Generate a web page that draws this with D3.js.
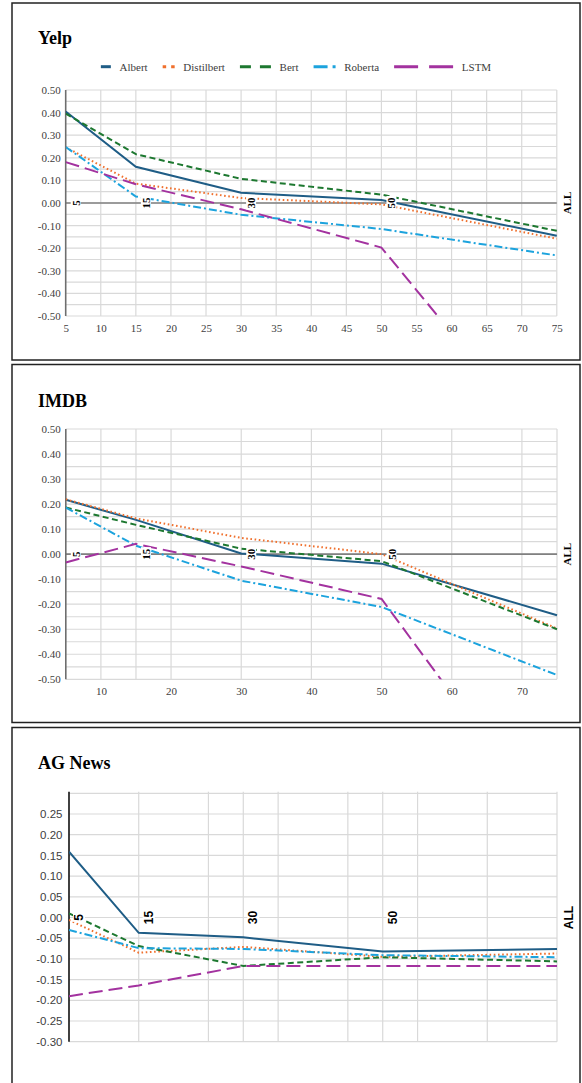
<!DOCTYPE html>
<html>
<head>
<meta charset="utf-8">
<script src="https://cdn.jsdelivr.net/npm/d3@7"></script>
<style>
  body { margin: 0; background: #fff; }
</style>
</head>
<body>
<script>
const seriesNames = ['Albert', 'Distilbert', 'Bert', 'Roberta', 'LSTM'];
// every series is read at 5, 15, 30, 50 and ALL (drawn at 75)
const xPoints = [5, 15, 30, 50, 75];

// rows follow seriesNames order
const yelpValues = [
  [0.405, 0.160, 0.045, 0.013, -0.145],
  [0.246, 0.086, 0.022, -0.006, -0.158],
  [0.395, 0.216, 0.107, 0.037, -0.123],
  [0.248, 0.029, -0.052, -0.115, -0.232],
  [0.181, 0.083, -0.028, -0.197, -1.140]
];
const imdbValues = [
  [0.217, 0.137, 0.003, -0.038, -0.244],
  [0.219, 0.143, 0.065, 0.000, -0.297],
  [0.186, 0.117, 0.022, -0.028, -0.300],
  [0.186, 0.034, -0.106, -0.211, -0.483],
  [-0.033, 0.041, -0.049, -0.179, -1.130]
];
const agValues = [
  [0.159, -0.037, -0.048, -0.082, -0.076],
  [-0.006, -0.085, -0.071, -0.095, -0.087],
  [0.010, -0.069, -0.117, -0.096, -0.106],
  [-0.030, -0.074, -0.076, -0.091, -0.096],
  [-0.190, -0.164, -0.117, -0.117, -0.117]
];

const markerX = [5, 15, 30, 50];
const markerText = ['5', '15', '30', '50'];
const allText = 'ALL';

const yelpXTicks = [5, 10, 15, 20, 25, 30, 35, 40, 45, 50, 55, 60, 65, 70, 75];
const imdbXTicks = [10, 20, 30, 40, 50, 60, 70];
const wideYTicks = [0.5, 0.4, 0.3, 0.2, 0.1, 0, -0.1, -0.2, -0.3, -0.4, -0.5];
const agYTicks = [0.25, 0.2, 0.15, 0.1, 0.05, 0, -0.05, -0.1, -0.15, -0.2, -0.25, -0.3];

const yelpVGrid = [10, 15, 20, 25, 30, 35, 40, 45, 50, 55, 60, 65, 70, 75];
const imdbVGrid = [10, 15, 20, 30, 40, 50, 60, 70, 75];
const agVGrid = [15, 25, 30, 35, 45, 50, 55, 65, 75];

const serif = "'Liberation Serif', 'Times New Roman', serif";
const sans = "'Liberation Sans', Arial, sans-serif";

const styles = {
  Albert:     { color: '#1f5d86', dash: null,       legLen: 10, legDash: null },
  Distilbert: { color: '#f0702d', dash: '1.6,2.6',  legLen: 12, legDash: '3.5,5' },
  Bert:       { color: '#1d7830', dash: '6,3.5',    legLen: 31, legDash: '11,9' },
  Roberta:    { color: '#1ca3dd', dash: '8,3,2,3',  legLen: 22, legDash: '14,5,3,10' },
  LSTM:       { color: '#a3329f', dash: '14,6',     legLen: 59, legDash: '24,11' }
};

const svg = d3.select('body')
  .append('svg')
  .attr('width', 582)
  .attr('height', 1083);

function drawPanel(p) {
  const x = d3.scaleLinear().domain([5, 75]).range([p.left, p.right]);
  const y = d3.scaleLinear().domain(p.yDomain).range([p.bottom, p.top]);
  const g = svg.append('g');

  // outer frame
  g.append('rect')
    .attr('x', 12).attr('y', p.frameTop)
    .attr('width', 568).attr('height', p.frameHeight)
    .attr('fill', 'none').attr('stroke', '#222').attr('stroke-width', 1.5);

  g.append('text')
    .attr('x', 38).attr('y', p.titleY)
    .attr('font-family', serif).attr('font-weight', 'bold').attr('font-size', 18)
    .attr('fill', '#000')
    .text(p.title);

  // horizontal grid every 0.05
  g.selectAll('.hgrid')
    .data(y.ticks(p.gridCount))
    .enter()
    .append('line')
    .attr('x1', p.left).attr('x2', p.right)
    .attr('y1', d => y(d)).attr('y2', d => y(d))
    .attr('stroke', '#d9d9d9').attr('stroke-width', 1.2);

  g.selectAll('.vgrid')
    .data(p.vGrid)
    .enter()
    .append('line')
    .attr('x1', d => x(d)).attr('x2', d => x(d))
    .attr('y1', p.gridTop).attr('y2', p.bottom)
    .attr('stroke', '#d9d9d9').attr('stroke-width', 1.2);

  if (p.zeroLine) {
    g.append('line')
      .attr('x1', p.left).attr('x2', p.right)
      .attr('y1', y(0)).attr('y2', y(0))
      .attr('stroke', '#808080').attr('stroke-width', 1.6);
  }

  // y axis line
  g.append('line')
    .attr('x1', p.left).attr('x2', p.left)
    .attr('y1', p.gridTop).attr('y2', p.bottom)
    .attr('stroke', p.axisColor).attr('stroke-width', 1.6);

  const yAxis = g.append('g')
    .attr('transform', `translate(${p.left},0)`)
    .call(d3.axisLeft(y).tickValues(p.yTicks).tickSize(0).tickPadding(p.yPad)
      .tickFormat(d => d.toFixed(2)));
  yAxis.select('.domain').remove();
  yAxis.selectAll('text')
    .attr('font-family', p.font).attr('font-size', p.tickSize).attr('fill', '#404040');

  if (p.xTicks) {
    const xAxis = g.append('g')
      .attr('transform', `translate(0,${p.bottom})`)
      .call(d3.axisBottom(x).tickValues(p.xTicks).tickSize(0).tickPadding(8));
    xAxis.select('.domain').remove();
    xAxis.selectAll('text')
      .attr('font-family', p.font).attr('font-size', p.tickSize).attr('fill', '#404040');
  }

  // series lines, clipped to the plot area
  const clipId = 'clip-' + p.title.replace(/\s/g, '');
  svg.append('clipPath').attr('id', clipId)
    .append('rect')
    .attr('x', p.left).attr('y', p.top - 2)
    .attr('width', p.right - p.left + 2).attr('height', p.bottom - p.top + 2);

  const line = d3.line()
    .x((d, i) => x(xPoints[i]))
    .y(d => y(d));

  g.append('g')
    .attr('clip-path', `url(#${clipId})`)
    .selectAll('path')
    .data(p.values)
    .enter()
    .append('path')
    .attr('d', line)
    .attr('fill', 'none')
    .attr('stroke', (d, i) => styles[seriesNames[i]].color)
    .attr('stroke-width', 2)
    .attr('stroke-dasharray', (d, i) => styles[seriesNames[i]].dash);

  // rotated dataset-size markers on the zero line
  const labels = markerX.map((m, i) => ({ x: x(m) + 10, text: markerText[i] }));
  labels.push({ x: p.allX, text: allText });
  labels.forEach(l => {
    const lg = g.append('g')
      .attr('transform', `translate(${l.x},${y(0)}) rotate(-90)`);
    const t = lg.append('text')
      .attr('text-anchor', 'middle')
      .attr('dominant-baseline', 'central')
      .attr('font-family', p.font).attr('font-weight', 'bold')
      .attr('font-size', p.markerSize).attr('fill', '#000')
      .text(l.text);
    const bb = t.node().getBBox();
    lg.insert('rect', 'text')
      .attr('x', bb.x - 1).attr('y', bb.y + 1)
      .attr('width', bb.width + 2).attr('height', bb.height - 2)
      .attr('fill', '#fff');
  });
}

function drawLegend(cx, cy) {
  const lg = svg.append('g');
  const items = [];
  seriesNames.forEach(name => {
    const s = styles[name];
    const sw = lg.append('line')
      .attr('y1', cy).attr('y2', cy)
      .attr('stroke', s.color).attr('stroke-width', 3)
      .attr('stroke-dasharray', s.legDash);
    const t = lg.append('text')
      .attr('y', cy)
      .attr('dominant-baseline', 'central')
      .attr('font-family', serif).attr('font-size', 11).attr('fill', '#404040')
      .text(name);
    items.push({ sw, t, len: s.legLen, w: t.node().getComputedTextLength() });
  });
  const total = d3.sum(items, d => d.len + 8.7 + d.w) + 15 * (items.length - 1);
  let cur = cx - total / 2;
  items.forEach(d => {
    d.sw.attr('x1', cur).attr('x2', cur + d.len);
    cur += d.len + 8.7;
    d.t.attr('x', cur);
    cur += d.w + 15;
  });
}

drawPanel({
  title: 'Yelp', titleY: 44, frameTop: 3, frameHeight: 357,
  left: 65.7, right: 556.8, top: 90, bottom: 316, gridTop: 90,
  yDomain: [-0.5, 0.5], gridCount: 20, yTicks: wideYTicks,
  xTicks: yelpXTicks, vGrid: yelpVGrid, values: yelpValues,
  zeroLine: true, axisColor: '#6e6e6e', font: serif, tickSize: 11, yPad: 5,
  markerSize: 11, allX: 567
});
drawLegend(296, 66.7);

drawPanel({
  title: 'IMDB', titleY: 407, frameTop: 364.5, frameHeight: 358,
  left: 65.8, right: 557, top: 429, bottom: 679.3, gridTop: 429,
  yDomain: [-0.5, 0.5], gridCount: 20, yTicks: wideYTicks,
  xTicks: imdbXTicks, vGrid: imdbVGrid, values: imdbValues,
  zeroLine: true, axisColor: '#6e6e6e', font: serif, tickSize: 11, yPad: 5,
  markerSize: 11, allX: 567
});

drawPanel({
  title: 'AG News', titleY: 769, frameTop: 727.5, frameHeight: 400,
  left: 69, right: 557, top: 793.3, bottom: 1041.7, gridTop: 791.7,
  yDomain: [-0.3, 0.3], gridCount: 12, yTicks: agYTicks,
  xTicks: null, vGrid: agVGrid, values: agValues,
  zeroLine: false, axisColor: '#111', font: sans, tickSize: 11.5, yPad: 6.5,
  markerSize: 12, allX: 569
});
</script>
</body>
</html>
